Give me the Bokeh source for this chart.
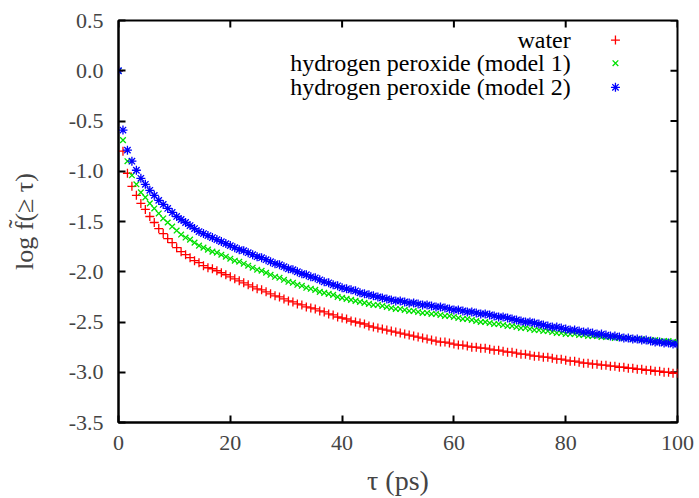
from bokeh.plotting import figure
from bokeh.models import Range1d, FixedTicker, CustomJSTickFormatter, ColumnDataSource
from bokeh.core.properties import value
from bokeh.embed import file_html
from bokeh.resources import INLINE

# ---- data ----
tau = [0.0, 0.8, 1.6, 2.4, 3.2, 4.0, 4.8, 5.6, 6.4, 7.2, 8.0, 8.8, 9.6, 10.4, 11.2,
       12.0, 12.8, 13.6, 14.4, 15.2, 16.0, 16.8, 17.6, 18.4, 19.2, 20.0, 20.8, 21.6,
       22.4, 23.2, 24.0, 24.8, 25.6, 26.4, 27.2, 28.0, 28.8, 29.6, 30.4, 31.2, 32.0,
       32.8, 33.6, 34.4, 35.2, 36.0, 36.8, 37.6, 38.4, 39.2, 40.0, 40.8, 41.6, 42.4,
       43.2, 44.0, 44.8, 45.6, 46.4, 47.2, 48.0, 48.8, 49.6, 50.4, 51.2, 52.0, 52.8,
       53.6, 54.4, 55.2, 56.0, 56.8, 57.6, 58.4, 59.2, 60.0, 60.8, 61.6, 62.4, 63.2,
       64.0, 64.8, 65.6, 66.4, 67.2, 68.0, 68.8, 69.6, 70.4, 71.2, 72.0, 72.8, 73.6,
       74.4, 75.2, 76.0, 76.8, 77.6, 78.4, 79.2, 80.0, 80.8, 81.6, 82.4, 83.2, 84.0,
       84.8, 85.6, 86.4, 87.2, 88.0, 88.8, 89.6, 90.4, 91.2, 92.0, 92.8, 93.6, 94.4,
       95.2, 96.0, 96.8, 97.6, 98.4, 99.2, 100.0]

water = [0.0, -0.80, -1.02, -1.15, -1.24, -1.32, -1.38, -1.45, -1.51, -1.57, -1.62,
         -1.67, -1.71, -1.76, -1.80, -1.83, -1.86, -1.89, -1.91, -1.94, -1.96, -1.97,
         -1.99, -2.01, -2.03, -2.05, -2.07, -2.09, -2.11, -2.13, -2.15, -2.17, -2.18,
         -2.20, -2.22, -2.24, -2.25, -2.27, -2.29, -2.30, -2.32, -2.33, -2.35, -2.36,
         -2.37, -2.39, -2.40, -2.42, -2.43, -2.45, -2.46, -2.47, -2.49, -2.50, -2.51,
         -2.52, -2.54, -2.55, -2.56, -2.57, -2.58, -2.59, -2.60, -2.61, -2.62, -2.63,
         -2.64, -2.65, -2.66, -2.67, -2.68, -2.69, -2.70, -2.70, -2.71, -2.72, -2.73,
         -2.73, -2.74, -2.75, -2.75, -2.76, -2.76, -2.77, -2.78, -2.78, -2.79, -2.80,
         -2.80, -2.81, -2.82, -2.82, -2.83, -2.84, -2.84, -2.85, -2.85, -2.86, -2.87,
         -2.87, -2.88, -2.89, -2.89, -2.90, -2.91, -2.91, -2.92, -2.92, -2.93, -2.93,
         -2.94, -2.94, -2.95, -2.95, -2.96, -2.96, -2.97, -2.97, -2.98, -2.98, -2.99,
         -2.99, -3.00, -3.00, -3.01, -3.01]

h2o2_m1 = [0.0, -0.69, -0.90, -1.04, -1.13, -1.21, -1.26, -1.32, -1.37, -1.42, -1.47,
           -1.51, -1.55, -1.59, -1.63, -1.66, -1.68, -1.71, -1.74, -1.76, -1.78, -1.80,
           -1.81, -1.83, -1.85, -1.87, -1.89, -1.90, -1.92, -1.94, -1.96, -1.98, -1.99,
           -2.01, -2.03, -2.05, -2.06, -2.08, -2.10, -2.11, -2.13, -2.14, -2.16, -2.17,
           -2.18, -2.20, -2.21, -2.22, -2.23, -2.25, -2.26, -2.27, -2.28, -2.29, -2.30,
           -2.31, -2.32, -2.33, -2.33, -2.34, -2.35, -2.36, -2.37, -2.37, -2.38, -2.39,
           -2.39, -2.40, -2.41, -2.41, -2.42, -2.42, -2.43, -2.44, -2.44, -2.45, -2.46,
           -2.47, -2.47, -2.48, -2.49, -2.50, -2.50, -2.51, -2.52, -2.52, -2.53, -2.54,
           -2.54, -2.55, -2.56, -2.56, -2.57, -2.58, -2.58, -2.59, -2.59, -2.60, -2.61,
           -2.61, -2.62, -2.62, -2.62, -2.63, -2.63, -2.64, -2.64, -2.64, -2.65, -2.65,
           -2.65, -2.66, -2.66, -2.66, -2.66, -2.67, -2.67, -2.67, -2.68, -2.68, -2.68,
           -2.69, -2.69, -2.69, -2.70, -2.70]

h2o2_m2 = [0.0, -0.59, -0.79, -0.90, -0.99, -1.07, -1.13, -1.19, -1.24, -1.29, -1.33,
           -1.37, -1.41, -1.45, -1.48, -1.51, -1.54, -1.57, -1.60, -1.62, -1.64, -1.66,
           -1.68, -1.70, -1.72, -1.74, -1.76, -1.78, -1.79, -1.81, -1.83, -1.85, -1.86,
           -1.88, -1.90, -1.92, -1.93, -1.95, -1.97, -1.98, -2.00, -2.02, -2.03, -2.05,
           -2.06, -2.08, -2.10, -2.11, -2.13, -2.14, -2.16, -2.17, -2.18, -2.19, -2.21,
           -2.22, -2.23, -2.24, -2.25, -2.26, -2.27, -2.28, -2.29, -2.29, -2.30, -2.31,
           -2.31, -2.32, -2.33, -2.33, -2.34, -2.35, -2.35, -2.36, -2.37, -2.38, -2.38,
           -2.39, -2.40, -2.40, -2.41, -2.42, -2.42, -2.43, -2.44, -2.45, -2.45, -2.46,
           -2.47, -2.48, -2.49, -2.50, -2.50, -2.51, -2.52, -2.53, -2.54, -2.55, -2.55,
           -2.56, -2.57, -2.58, -2.58, -2.59, -2.60, -2.60, -2.61, -2.62, -2.62, -2.63,
           -2.64, -2.64, -2.65, -2.66, -2.66, -2.67, -2.67, -2.68, -2.68, -2.69, -2.70,
           -2.70, -2.71, -2.71, -2.72, -2.72]

series_labels = ["water", "hydrogen peroxide (model 1)", "hydrogen peroxide (model 2)"]
series_colors = ["#ff0000", "#00e000", "#0000ff"]
series_markers = ["cross", "x", "asterisk"]

x_ticks = [0, 20, 40, 60, 80, 100]
y_ticks = [-3.5, -3.0, -2.5, -2.0, -1.5, -1.0, -0.5, 0.0, 0.5]

FONT = "Liberation Serif"
X_MIN, X_MAX, Y_MIN, Y_MAX = 0, 100, -3.5, 0.5
W, H = 699, 498
BL, BR, BT, BB = 118, 22, 20, 76
TICK = 7  # tick length in pixels
tick_dx = TICK * (X_MAX - X_MIN) / (W - BL - BR)
tick_dy = TICK * (Y_MAX - Y_MIN) / (H - BT - BB)

p = figure(width=W, height=H, output_backend="svg", toolbar_location=None,
           x_range=Range1d(X_MIN, X_MAX), y_range=Range1d(Y_MIN, Y_MAX),
           min_border_left=BL, min_border_right=BR, min_border_top=BT, min_border_bottom=BB)
p.background_fill_color = "white"
p.border_fill_color = "white"
p.grid.visible = False
p.outline_line_color = "black"
p.outline_line_width = 2

fmt = CustomJSTickFormatter(code="return tick.toFixed(1);")

for ax in (p.xaxis[0], p.yaxis[0]):
    ax.major_tick_in = TICK
    ax.major_tick_out = 0
    ax.major_tick_line_width = 2
    ax.minor_tick_line_color = None
    ax.axis_line_width = 2
    ax.major_label_text_font = FONT
    ax.major_label_text_font_size = "22px"
    ax.axis_label_text_font = FONT
    ax.axis_label_text_font_style = "normal"

p.xaxis.ticker = FixedTicker(ticks=x_ticks)
p.yaxis.ticker = FixedTicker(ticks=y_ticks)
p.yaxis.formatter = fmt
p.xaxis.major_label_standoff = 13
p.yaxis.major_label_standoff = 15
p.xaxis.axis_label = "τ (ps)"
p.yaxis.axis_label = "log f\u0303(≥ τ)"
p.xaxis.axis_label_text_font_size = "28px"
p.yaxis.axis_label_text_font_size = "26px"
p.xaxis.axis_label_standoff = 12
p.yaxis.axis_label_standoff = 27

# mirrored inward ticks on the top and right edges (gnuplot style)
p.segment(x0=x_ticks, y0=[Y_MAX] * len(x_ticks), x1=x_ticks,
          y1=[Y_MAX - tick_dy] * len(x_ticks), line_color="black", line_width=2)
p.segment(x0=[X_MAX] * len(y_ticks), y0=y_ticks, x1=[X_MAX - tick_dx] * len(y_ticks),
          y1=y_ticks, line_color="black", line_width=2)

src = ColumnDataSource(dict(tau=tau, water=water, m1=h2o2_m1, m2=h2o2_m2))
sizes = [9, 8, 9]
for col, color, marker, size in zip(["water", "m1", "m2"], series_colors, series_markers, sizes):
    p.scatter("tau", col, source=src, marker=marker, size=size, line_color=color,
              fill_color=color, line_width=1.3)

# key (gnuplot-style: text right-aligned, sample to the right)
key_text_x = [80.9, 80.9, 80.9]
key_mark_x = [88.9, 88.9, 88.9]
key_y = [0.305, 0.075, -0.165]
ksrc = ColumnDataSource(dict(tx=key_text_x, mx=key_mark_x, y=key_y, label=series_labels,
                             color=series_colors, marker=series_markers, size=sizes))
p.text(x="tx", y="y", text="label", source=ksrc, text_align="right", text_baseline="middle",
       text_font=value(FONT), text_font_size="24px", text_color="black")
p.scatter(x="mx", y="y", marker="marker", size="size", line_color="color", fill_color="color",
          line_width=1.3, source=ksrc)

open("out.html", "w").write(file_html(p, INLINE))
